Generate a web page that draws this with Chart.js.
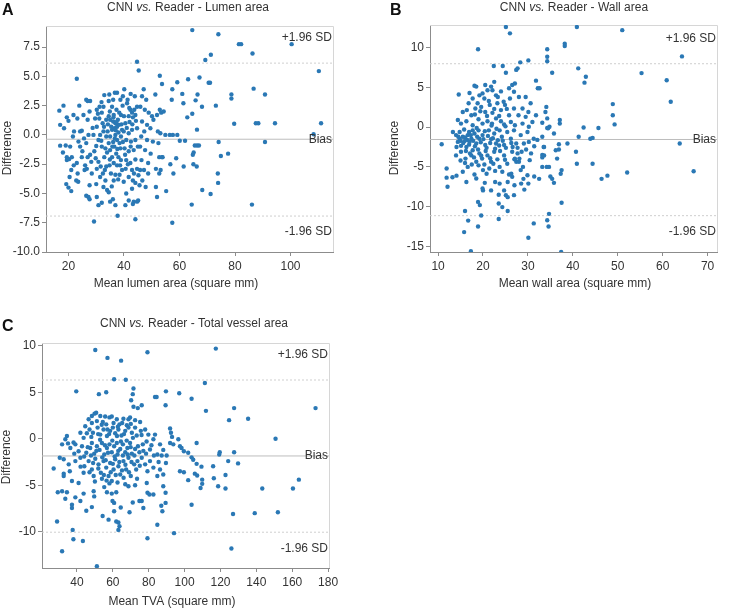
<!DOCTYPE html>
<html>
<head>
<meta charset="utf-8">
<script src="https://cdn.jsdelivr.net/npm/chart.js@4.4.1/dist/chart.umd.min.js"></script>
<style>
  html, body { margin: 0; padding: 0; background: #fff; }
  body { width: 754px; height: 609px; position: relative; overflow: hidden; }
  canvas { position: absolute; }
</style>
</head>
<body>
<canvas id="chartA" width="377" height="300" style="left:0;top:0"></canvas>
<canvas id="chartB" width="377" height="300" style="left:377px;top:0"></canvas>
<canvas id="chartC" width="377" height="309" style="left:0;top:300px"></canvas>
<script>
// [mean, difference] pairs
var lumenPairs = [
  [64.6,8.95],[74.0,8.6],[81.4,7.75],[82.2,7.75],[86.3,6.95],[100.4,7.75],[71.3,6.85],[69.3,6.4],[44.7,6.25],[45.3,5.5],
  [110.2,5.45],[23.0,4.8],[52.9,5.05],[63.1,4.75],[59.2,4.5],[67.2,4.9],[70.5,4.45],[71.0,4.45],[53.7,4.35],[57.4,3.9],
  [86.7,3.95],[78.7,3.45],[78.7,3.1],[90.8,3.45],[61.0,3.5],[66.5,3.45],[57.2,3.0],[65.8,2.95],[61.4,2.7],[68.1,2.4],
  [73.1,2.5],[62.8,1.5],[64.6,1.8],[79.7,0.95],[87.5,1.0],[88.4,1.0],[94.4,1.0],[111.0,1.0],[66.3,0.45],[56.5,0.0],
  [57.6,0.0],[59.2,0.0],[60.1,-0.5],[62.0,-0.5],[65.5,-0.9],[66.3,-0.9],[67.0,-0.9],[74.1,-0.6],[90.8,-0.6],[108.3,0.05],
  [65.1,-1.5],[64.8,-1.7],[74.9,-1.8],[77.5,-1.6],[58.8,-2.0],[53.7,-1.9],[56.7,-2.5],[61.5,-2.7],[65.0,-2.5],[66.2,-2.7],
  [57.8,-3.3],[73.8,-3.3],[73.9,-4.1],[68.2,-4.7],[71.2,-5.05],[55.2,-4.8],[51.9,-5.3],[64.4,-5.95],[86.1,-5.95],[57.4,-7.5],
  [44.1,-7.2],[29.2,-7.4],[37.7,-6.9],
  [16.7,2.07],[17.0,0.86],[18.2,2.5],[18.4,0.57],[17.0,-0.92],[18.0,-1.5],[19.0,-0.9],[19.4,1.5],[20.0,1.2],[19.4,-1.9],
  [19.4,-2.15],[20.2,-2.07],[19.2,-4.2],[20.0,-4.5],[21.0,-4.8],[20.4,-3.6],[21.0,-3.0],[20.6,-1.0],[21.6,-0.14],[21.8,1.7],
  [22.0,0.3],[21.2,-1.9],
  [23.9,2.5],[24.2,0.3],[24.8,0.35],[23.6,-0.57],[24.2,-1.0],[25.0,-1.4],[23.0,-2.4],[23.3,-3.3],[22.8,-3.9],[23.5,-4.0],
  [24.8,-1.9],[25.4,1.7],[26.4,3.0],[26.9,2.9],[26.9,1.3],[27.2,0.0],[26.4,-0.7],[26.0,-2.6],[26.6,-2.9],[25.8,-3.0],
  [26.4,-5.2],[27.2,-5.3],[27.6,-5.5],[26.9,-1.9],[27.8,-1.7],[27.6,2.0],[27.8,2.9],[28.4,-3.3],[27.6,-4.3],
  [30.8,-6.0],[32.0,-5.8],[30.0,-4.2],[31.4,-3.6],[30.2,-2.9],[30.8,-2.3],[29.3,-1.4],[30.0,-0.95],[30.8,-0.43],[29.0,0.0],
  [31.4,0.0],[30.2,0.7],[31.1,1.4],[29.6,1.4],[32.0,1.9],[30.2,2.15],[32.6,2.4],[31.2,2.4],[32.9,3.4],[32.3,1.0],
  [33.6,1.3],[32.6,0.3],[33.6,-0.14],[32.0,-1.0],[33.3,-1.15],[32.9,-1.9],[33.6,-2.7],[32.4,-3.3],[33.3,-3.9],[33.9,-4.7],
  [32.6,-4.45],[30.2,-5.3],
  [34.5,-4.9],[35.0,-5.7],[36.0,-5.5],[36.9,-6.0],[36.3,-3.9],[36.9,-3.4],[35.3,-3.3],[34.8,-2.6],[36.3,-2.4],[37.5,-2.6],
  [35.7,-1.9],[37.2,-1.6],[38.0,-1.9],[35.0,-1.3],[36.5,-1.0],[34.5,-0.7],[36.1,-0.6],[37.5,-0.43],[38.4,-0.7],[35.0,-0.14],
  [36.9,0.0],[34.1,0.3],[35.7,0.43],[36.5,0.57],[37.5,0.7],[38.2,0.86],[36.9,1.0],[36.1,1.15],[35.0,1.3],[37.8,1.3],
  [34.5,1.6],[36.3,1.7],[34.9,2.0],[37.3,2.15],[35.7,2.4],[34.5,2.9],[36.1,3.0],[36.7,3.6],[37.5,3.6],[34.7,3.45],
  [38.7,3.0],[38.9,1.7],[39.3,0.43],[38.9,-0.14],[38.7,-1.15],[38.9,-2.15],[39.3,-3.0],[38.4,-3.4],
  [40.1,3.9],[39.6,3.3],[41.1,2.7],[42.3,2.15],[42.9,1.9],[41.7,1.6],[43.2,1.5],[44.1,1.7],[43.7,2.15],[44.7,2.4],
  [42.4,3.5],[43.9,3.3],[40.5,1.0],[42.0,1.1],[39.9,0.3],[41.7,0.14],[42.9,0.43],[44.7,0.57],[40.8,-0.43],[42.5,-0.57],
  [44.1,-0.43],[40.2,-1.15],[41.7,-1.4],[43.5,-1.3],[45.0,-1.0],[40.8,-2.15],[42.3,-2.4],[44.1,-2.1],[40.6,-2.9],[42.9,-3.0],
  [44.7,-2.9],[41.7,-3.6],[43.2,-3.9],[44.1,-4.1],[39.9,-4.0],[40.8,-5.0],[41.7,-5.6],[40.5,-6.0],[43.5,-5.7],[43.2,-5.9],
  [44.7,-5.7],[45.1,-5.6],[42.9,-4.6],
  [46.5,3.3],[47.1,3.9],[48.0,3.0],[45.9,2.4],[47.5,2.15],[48.9,1.9],[50.1,1.6],[51.3,3.45],[51.9,1.7],[52.9,2.15],
  [53.4,1.9],[54.3,2.0],[50.6,1.3],[46.5,1.15],[48.3,0.86],[49.5,0.57],[47.3,0.3],[52.2,0.3],[53.1,0.14],[54.9,0.0],
  [46.2,-0.14],[48.3,-0.43],[50.4,-0.57],[52.4,-0.7],[45.8,-1.0],[47.6,-1.3],[49.6,-1.6],[52.7,-1.9],[53.9,-1.9],[46.3,-2.15],
  [48.7,-2.4],[51.5,-2.9],[53.2,-3.0],[45.8,-3.0],[47.2,-3.0],[48.7,-3.3],[46.6,-3.9],[47.8,-4.45],[45.6,-4.3],[45.2,-3.45],
  [51.5,-4.45],[52.7,-3.3],
  [31.8,-0.5],[32.8,0.7],[33.9,-1.5],[34.2,0.9],[34.9,-2.1],[35.4,0.7],[35.8,-1.0],[36.2,1.5],[36.7,-0.3],[37.0,0.4],
  [37.3,1.1],[37.6,-1.2],[38.0,0.2],[38.3,1.9],[38.6,-2.6],[39.1,0.9],[39.6,-0.6],[40.0,1.6],[40.4,-1.7],[41.0,0.6],
  [41.4,-2.5],[41.9,2.3],[42.4,-1.0],[43.0,0.9],[43.6,-3.3],[44.3,1.2],[29.8,-2.0],[30.6,1.8],[31.6,-2.7],[31.9,2.8],
  [33.1,-3.0],[35.6,-4.4],[37.9,-3.8],[39.5,2.5],[41.3,3.0],[28.7,0.6],[28.2,-2.3],[25.6,-0.3],[23.2,1.4],[21.9,-2.6]
];

var wallPairs = [
  [25.1,12.6],[26.0,11.8],[40.9,12.6],[51.0,12.2],[18.9,9.8],[64.3,8.9],[34.3,8.3],[34.3,8.85],[34.3,9.8],[38.2,10.5],
  [38.2,10.2],[41.2,7.4],[55.3,6.8],[60.9,5.9],[61.8,3.2],[30.1,8.4],[28.3,8.15],[27.7,7.4],[27.4,7.2],[24.4,7.7],
  [22.4,7.7],[25.1,6.85],[35.4,6.85],[42.9,6.35],[42.6,5.6],[31.8,5.85],[32.2,4.9],[32.6,4.9],[48.9,2.9],[48.9,1.5],
  [49.3,0.35],[45.7,-0.1],[42.4,-0.05],[41.3,-1.2],[43.9,-1.45],[44.4,-1.35],[38.8,-2.05],[40.7,-3.1],[40.9,-4.6],[44.4,-4.6],
  [46.4,-6.5],[47.7,-6.1],[52.1,-5.7],[63.8,-2.05],[66.9,-5.55],[37.3,-5.85],[37.5,-5.4],[36.2,-2.9],[36.9,-2.15],[36.9,-2.8],
  [37.1,0.9],[37.1,0.45],[35.8,-0.8],[34.3,-0.1],[34.8,0.05],[34.5,-0.15],[34.3,1.1],[33.9,1.9],[34.1,2.55],[33.2,0.55],
  [33.5,-2.5],[33.2,-3.5],[33.2,-3.8],[34.2,-5.0],[34.7,-5.0],[35.8,-7.0],[35.4,-6.5],[35.0,-6.2],[37.5,-9.5],[34.7,-10.9],
  [34.3,-11.7],[34.6,-12.5],[31.3,-12.1],[30.1,-13.9],[30.1,-7.1],[29.9,-6.05],[29.2,-7.85],[28.5,-7.1],[29.0,-6.5],[32.5,-6.5],
  [31.4,-6.2],[30.4,-4.15],[28.1,-3.95],[27.4,-4.35],[27.7,-3.3],[26.6,-2.5],[27.0,-4.05],[26.3,-5.85],[26.5,-6.25],[27.0,-7.3],
  [25.5,-6.9],[25.1,-8.55],[24.7,-7.95],[25.5,-8.8],[25.5,-10.55],[24.3,-10.05],[23.5,-8.5],[23.5,-9.6],[23.5,-11.55],[22.7,-6.9],
  [20.4,-7.0],[20.0,-7.95],[18.9,-9.4],[19.3,-9.8],[19.6,-11.1],[18.9,-12.5],[16.0,-10.55],[16.7,-11.75],[15.8,-13.2],[17.3,-15.6],
  [37.4,-15.7],[14.1,-6.1],[11.9,-6.35],[12.1,-7.5],[11.9,-5.2],[10.8,-2.15],[13.2,-6.3],[16.3,-6.9],
  [18.1,5.2],[18.5,5.1],[14.6,4.1],[19.2,4.0],[19.9,4.25],[21.0,4.65],[22.1,4.65],[22.9,4.0],[24.0,4.5],[25.8,4.9],
  [26.5,5.3],[27.1,5.5],[26.9,4.45],[28.0,3.8],[29.5,3.8],[30.6,3.0],[22.5,5.7],[21.8,5.1],[23.3,3.8],[20.3,3.6],
  [21.3,3.3],[17.7,3.6],[16.8,3.0],[18.8,3.0],
  [15.5,1.9],[16.4,2.15],[17.4,1.5],[18.3,2.35],[19.6,2.55],[20.5,1.9],[21.5,2.8],[22.5,2.3],[23.2,3.0],[24.0,2.15],
  [24.9,2.8],[25.8,1.5],[26.9,2.35],[27.9,1.5],[28.8,2.35],[29.5,1.3],[30.1,1.9],[31.0,0.65],[31.8,1.5],[14.4,0.9],
  [15.1,0.45],[16.3,0.75],[17.7,0.25],[19.0,1.0],[19.9,0.45],[21.0,0.75],[22.0,0.45],[22.9,1.1],[24.0,0.75],[24.7,0.35],
  [26.2,0.65],[27.1,0.25],[28.8,0.45],[30.2,0.05],[13.3,-0.6],
  [14.0,-1.0],[14.8,-1.45],[15.5,-1.2],[14.4,-1.85],[15.1,-2.35],[15.9,-1.75],[16.6,-1.0],[16.3,-2.5],[17.4,-1.45],[18.1,-0.8],
  [18.5,-2.05],[19.2,-1.45],[19.9,-1.0],[20.5,-2.25],[21.3,-0.4],[21.8,-1.5],[22.5,-0.8],[22.9,-2.05],[23.7,-0.4],[24.2,-1.2],
  [24.7,-2.25],[25.4,-0.6],[26.2,-1.45],[26.9,-0.4],[27.4,-2.05],[28.4,-1.0],[29.1,-2.05],[29.9,-0.6],[30.2,-1.85],[31.3,-1.45],
  [32.1,-1.6],[33.2,-1.2],[33.6,-2.5],[14.1,-2.5],[17.7,-0.4],[19.0,-0.4],[23.3,-1.65],[17.0,-1.85],
  [14.0,-3.55],[15.1,-3.1],[16.1,-3.95],[17.4,-3.55],[17.7,-2.9],[18.5,-4.35],[19.2,-3.3],[19.8,-3.95],[20.3,-4.7],[21.0,-3.55],
  [21.4,-5.2],[20.8,-5.85],[21.8,-4.35],[22.5,-3.1],[23.2,-4.05],[23.7,-5.0],[24.7,-3.55],[25.4,-4.6],[26.5,-3.1],[27.1,-3.95],
  [28.0,-4.35],[28.9,-5.0],[28.4,-5.4],[25.8,-5.95],[24.3,-5.6],[15.5,-5.6],[16.6,-5.0],[18.1,-5.95],[18.5,-6.45],[19.9,-7.7],
  [21.8,-7.95],[23.7,-7.1],[26.9,-8.55],[33.2,-5.0],[33.6,-3.55],[36.5,-3.95],
  [14.5,-1.2],[15.0,-1.7],[15.6,-2.0],[16.0,-1.3],[16.5,-1.6],[16.9,-2.2],[17.3,-1.0],[17.8,-1.7],[18.2,-2.4],[18.7,-1.2],
  [19.5,-1.9],[20.1,-1.5],[20.8,-2.6],[21.1,-1.1],[21.6,-2.0],[22.2,-1.4],[22.7,-2.7],[23.6,-2.3],[24.4,-1.7],[25.1,-2.6],
  [14.8,-0.6],[15.8,-0.3],[16.9,-0.6],[18.6,-0.1],[20.4,-0.5],[21.9,0.2],[23.0,-0.2],[25.0,0.1],[16.2,-3.0],[17.1,-3.3],
  [18.0,-3.8],[18.9,-2.8],[19.6,-3.6],[20.6,-3.0],[21.6,-3.9],[22.3,-4.6],[23.8,-3.0],[24.9,-4.1],[19.0,-4.8],[20.0,-5.4],
  [22.7,-5.5],[17.5,-4.7],[16.0,-4.5],[15.0,-4.2],[20.9,1.4],[18.2,1.6],[19.4,2.0],[22.1,1.8],[23.6,1.4],[25.3,2.3],
  [26.3,-2.0],[27.7,-2.6],[28.6,-3.1],[29.6,-2.8],[30.7,-3.3],[31.4,-2.4],[26.0,3.6],[24.6,3.2],[20.5,5.3],[17.0,4.3]
];

var tvaPairs = [
  [50.2,9.55],[57.0,8.7],[64.6,8.4],[79.3,9.3],[117.4,9.7],[60.7,6.4],[67.2,6.35],[39.6,5.1],[52.2,4.8],[56.3,5.0],
  [71.5,5.4],[71.1,4.8],[70.2,4.15],[71.5,3.45],[73.9,3.3],[76.1,3.6],[83.5,4.5],[84.4,4.5],[89.6,5.1],[97.0,4.9],
  [103.9,4.3],[89.4,3.6],[111.3,6.0],[111.9,3.0],
  [49.8,2.7],[50.7,2.8],[48.3,2.45],[46.5,2.1],[53.0,2.45],[55.7,2.4],[58.1,2.3],[59.4,2.4],[62.2,2.1],[65.9,2.15],
  [68.7,2.1],[69.6,2.3],[72.4,2.0],[75.2,1.8],[51.1,1.9],[54.4,1.8],[56.3,1.55],[60.4,1.7],[63.7,1.55],[67.8,1.45],[48.3,1.7],
  [44.6,1.35],[41.9,0.65],[43.7,0.1],[47.0,1.0],[48.9,0.65],[51.5,1.2],[53.0,0.45],[54.8,1.0],[56.7,0.3],[58.5,0.85],
  [60.0,1.2],[61.3,0.6],[63.1,1.0],[64.8,0.35],[66.9,0.85],[68.7,1.2],[70.6,0.65],[72.4,1.2],[73.3,0.35],[75.6,0.85],
  [78.0,1.0],[79.8,0.45],[82.6,-0.05],[83.5,0.45],[86.3,-0.6],[34.4,0.3],[33.5,-0.05],[31.7,-0.6],[38.1,-0.4],
  [36.3,-1.0],[39.1,-0.6],[40.9,-1.35],[42.8,-0.8],[45.2,-1.5],[47.4,-1.0],[48.3,-0.45],[49.6,-1.6],[51.1,-0.8],[52.6,-1.2],
  [53.9,-0.45],[55.2,-1.7],[56.7,-1.0],[58.1,-0.6],[59.4,-1.45],[60.7,-0.8],[62.2,-0.45],[62.6,-1.7],[64.1,-1.1],[65.6,-0.6],
  [66.9,-1.45],[68.1,-1.0],[69.6,-0.45],[70.6,-1.6],[72.4,-1.1],[74.8,-1.45],[76.7,-0.6],[78.5,-1.6],[80.7,-1.15],[82.9,-1.8],
  [84.8,-1.7],[87.2,-1.8],[88.1,-1.2],
  [32.6,-2.2],[35.4,-2.75],[39.1,-2.4],[41.9,-2.05],[44.1,-2.95],[46.5,-2.4],[48.3,-3.3],[50.2,-2.15],[52.0,-2.75],[53.3,-3.65],
  [54.8,-2.4],[56.3,-3.1],[57.6,-4.0],[58.5,-2.6],[60.4,-3.3],[61.3,-2.2],[63.1,-2.95],[64.1,-3.85],[65.9,-2.4],[67.4,-3.3],
  [68.7,-2.05],[70.0,-4.0],[71.9,-2.75],[73.7,-2.4],[76.1,-2.05],[78.0,-2.75],[79.3,-3.5],[80.7,-2.4],[82.6,-3.1],[84.8,-4.0],
  [86.3,-3.3],[88.1,-3.85],[59.4,-4.55],[58.1,-4.8],[53.9,-4.3],[49.3,-4.0],[43.7,-3.65],[40.9,-4.75],[37.2,-4.55],
  [43.7,-5.9],[37.2,-7.1],[37.2,-7.45],[37.6,-9.8],[38.0,-10.8],[43.3,-11.0],[31.7,-12.1],[45.2,-7.75],[48.3,-7.35],[51.1,-13.7],
  [54.3,-8.3],[57.6,-8.7],[60.7,-7.8],[61.9,-8.9],[63.1,-9.0],[63.7,-9.4],[63.1,-9.8],[59.8,-6.7],[60.7,-6.9],[59.4,-5.9],
  [61.9,-5.75],[56.7,-5.75],[64.4,-7.4],[69.3,-7.9],[71.1,-6.85],[74.8,-6.7],[76.1,-6.7],[77.0,-7.45],[79.3,-5.8],[80.4,-6.0],
  [82.6,-6.0],[79.3,-10.7],[84.8,-9.25],[87.6,-7.8],[87.0,-7.2],[89.4,-6.9],[89.4,-5.8],[88.1,-5.1],[78.9,-4.75],[72.4,-5.0],
  [68.7,-5.1],[66.9,-4.9],[49.3,-5.65],[49.6,-6.2],[41.9,-6.7],[39.1,-6.3],[33.5,-6.45],[34.4,-5.75],[31.7,-5.65],
  [27.0,-3.2],[29.3,-5.75],[28.9,-8.9],[30.4,-2.05],[32.6,-3.75],[32.6,-4.0],
  [91.9,1.1],[92.4,0.65],[93.0,0.2],[91.9,-0.45],[93.7,-0.6],[96.5,-0.05],[97.4,-0.8],[98.3,-1.0],[99.6,-1.35],[102.0,-1.5],
  [97.4,-3.5],[99.6,-3.6],[102.0,-4.45],[94.1,-10.15],[90.0,-1.8],[89.6,-2.6],
  [127.6,3.3],[124.8,2.0],[135.4,2.15],[173.0,3.3],[150.7,0.0],[106.7,-0.45],[119.6,-1.45],[119.3,-1.7],[127.6,-1.45],[103.9,-2.0],
  [104.8,-2.25],[106.7,-2.7],[109.4,-3.0],[124.3,-2.4],[129.8,-2.65],[115.9,-2.95],[105.7,-3.75],[107.0,-3.95],[109.8,-4.4],[109.8,-4.85],
  [108.9,-5.3],[116.3,-4.25],[118.7,-5.1],[122.8,-3.9],[122.8,-5.35],[143.3,-5.35],[160.4,-5.35],[163.7,-4.4],[103.9,-7.1],[127.0,-8.1],
  [139.1,-8.0],[152.0,-7.9],[126.1,-11.8],
  [46.0,-0.9],[47.8,-1.8],[49.0,-2.6],[50.8,-1.3],[51.9,-3.2],[52.9,-0.1],[54.1,-2.0],[55.6,-0.7],[56.0,-2.3],[57.3,-1.5],
  [57.9,0.5],[58.8,-3.6],[59.7,-0.2],[60.0,-2.7],[61.0,-1.9],[61.6,-3.9],[62.3,0.3],[63.0,-1.3],[63.6,-2.5],[64.5,-0.3],
  [65.1,-3.4],[65.6,-1.8],[66.2,0.5],[67.0,-2.8],[67.7,-0.2],[68.3,-1.7],[69.0,-3.6],[69.9,-0.9],[70.4,-2.5],[71.2,0.1],
  [72.0,-1.8],[73.0,-3.3],[74.0,-0.8],[75.0,-2.9],[76.0,0.4],[77.0,-1.3],[78.8,-0.3],[44.0,-1.9],[45.5,0.6],[47.0,-3.6],
  [48.0,0.2],[50.0,-4.6],[51.8,0.5],[53.8,1.5],[55.0,-3.9],[57.0,1.0],[62.8,1.3],[65.2,1.7],[70.0,1.6],[42.0,-3.0],
  [38.5,-1.6],[36.0,-3.5],[35.0,-0.5],[56.5,-4.5],[62.6,-4.7],[66.0,-4.2],[73.5,-4.3],[81.5,-0.7],[85.5,-2.5],[55.2,-5.2]
];

// bias and limits of agreement: [lower, bias, upper]
var lumenLimits = [-6.93, -0.37, 6.13];
var wallLimits = [-11.13, -1.55, 7.98];
var tvaLimits = [-10.05, -1.85, 6.32];

// tick labels
var lumenXTicks = [20, 40, 60, 80, 100];
var lumenYTicks = [-10, -7.5, -5, -2.5, 0, 2.5, 5, 7.5];
var wallXTicks = [10, 20, 30, 40, 50, 60, 70];
var wallYTicks = [-15, -10, -5, 0, 5, 10];
var tvaXTicks = [40, 60, 80, 100, 120, 140, 160, 180];
var tvaYTicks = [-10, -5, 0, 5, 10];

var FONT = '"Liberation Sans", Arial, sans-serif';
var DOT = '#2a78b5';

function toPoints(pairs) {
  return pairs.map(function(p) { return {x: p[0], y: p[1]}; });
}

var panelText = {
  id: 'panelText',
  beforeDatasetsDraw: function(chart) {
    var a = chart.chartArea, ctx = chart.ctx;
    ctx.save();
    ctx.strokeStyle = '#d6d6d6';
    ctx.lineWidth = 1;
    ctx.beginPath();
    ctx.moveTo(a.left, a.top + 0.5);
    ctx.lineTo(a.right + 0.5, a.top + 0.5);
    ctx.lineTo(a.right + 0.5, a.bottom);
    ctx.stroke();
    ctx.restore();
  },
  afterDraw: function(chart, args, o) {
    var ctx = chart.ctx, a = chart.chartArea, y = chart.scales.y;
    ctx.save();
    ctx.fillStyle = '#111';
    ctx.textAlign = 'left';
    ctx.textBaseline = 'alphabetic';
    ctx.font = 'bold 16px ' + FONT;
    ctx.fillText(o.letter, o.letterPos[0], o.letterPos[1]);

    // title with italic "vs."
    var parts = [['CNN ', 'normal'], ['vs.', 'italic'], [o.title, 'normal']];
    var total = 0;
    parts.forEach(function(p) {
      ctx.font = p[1] + ' 12px ' + FONT;
      p.push(ctx.measureText(p[0]).width);
      total += p[2];
    });
    var tx = o.titlePos[0] - total / 2;
    ctx.fillStyle = '#333';
    parts.forEach(function(p) {
      ctx.font = p[1] + ' 12px ' + FONT;
      ctx.fillText(p[0], tx, o.titlePos[1]);
      tx += p[2];
    });

    ctx.font = '12px ' + FONT;
    ctx.textAlign = 'center';
    ctx.textBaseline = 'middle';
    ctx.fillText(o.xTitle, o.xTitlePos[0], o.xTitlePos[1]);
    ctx.save();
    ctx.translate(o.yTitlePos[0], o.yTitlePos[1]);
    ctx.rotate(-Math.PI / 2);
    ctx.fillText('Difference', 0, 0);
    ctx.restore();

    ctx.textAlign = 'right';
    var lim = o.limits;
    ctx.fillText('+1.96 SD', a.right - 1, y.getPixelForValue(lim[2]) - 25);
    ctx.fillText('Bias', a.right - 1, y.getPixelForValue(lim[1]));
    ctx.fillText('-1.96 SD', a.right - 1, y.getPixelForValue(lim[0]) + 16);
    ctx.restore();
  }
};

function makePanel(id, pairs, limits, s) {
  var W = s.size[0], H = s.size[1];
  var lineSet = function(v, dash) {
    return {
      type: 'line',
      data: [{x: s.x[0], y: v}, {x: s.x[1], y: v}],
      borderColor: dash ? '#cfcfcf' : '#bdbdbd',
      borderWidth: 1,
      borderDash: dash ? [2, 2] : [],
      pointRadius: 0,
      fill: false
    };
  };
  var axisCommon = function(range, tickVals, digits, fit) {
    return {
      type: 'linear',
      min: range[0],
      max: range[1],
      afterFit: fit,
      afterBuildTicks: function(sc) {
        sc.ticks = tickVals.map(function(v) { return {value: v}; });
      },
      grid: {drawOnChartArea: false, drawTicks: true, tickLength: 4, color: '#8c8c8c'},
      border: {display: true, color: '#8c8c8c'},
      ticks: {
        maxRotation: 0,
        autoSkip: false,
        color: '#333',
        font: {family: FONT, size: 12},
        padding: 2,
        callback: function(v) { return Number(v).toFixed(digits); }
      }
    };
  };
  var xs = axisCommon(s.x, s.xTicks, 0, function(sc) { sc.height = H - s.area[3]; });
  xs.position = 'bottom';
  xs.ticks.padding = 3;
  var ys = axisCommon(s.y, s.yTicks, s.yDigits, function(sc) { sc.width = s.area[0]; });
  ys.position = 'left';

  new Chart(document.getElementById(id).getContext('2d'), {
    type: 'scatter',
    data: {
      datasets: [
        {data: toPoints(pairs), backgroundColor: DOT, borderWidth: 0, pointRadius: 2.2},
        lineSet(limits[1], false),
        lineSet(limits[2], true),
        lineSet(limits[0], true)
      ]
    },
    options: {
      responsive: false,
      animation: false,
      layout: {padding: {left: 0, top: s.area[1], right: W - s.area[2], bottom: 0}},
      scales: {x: xs, y: ys},
      plugins: {
        legend: {display: false},
        tooltip: {enabled: false},
        panelText: {
          letter: s.letter, letterPos: s.letterPos,
          title: s.title, titlePos: s.titlePos,
          xTitle: s.xTitle, xTitlePos: s.xTitlePos,
          yTitlePos: s.yTitlePos, limits: limits
        }
      }
    },
    plugins: [panelText]
  });
}

makePanel('chartA', lumenPairs, lumenLimits, {
  size: [377, 300], area: [46, 26, 333, 252],
  x: [11.9, 115.3], xTicks: lumenXTicks, y: [-10, 9.3], yTicks: lumenYTicks, yDigits: 1,
  letter: 'A', letterPos: [2, 15],
  title: ' Reader - Lumen area', titlePos: [188, 11],
  xTitle: 'Mean lumen area (square mm)', xTitlePos: [176, 284],
  yTitlePos: [8, 148]
});

makePanel('chartB', wallPairs, wallLimits, {
  size: [377, 300], area: [53, 25, 340, 252],
  x: [8.2, 72.1], xTicks: wallXTicks, y: [-15.7, 12.85], yTicks: wallYTicks, yDigits: 0,
  letter: 'B', letterPos: [13, 15],
  title: ' Reader - Wall area', titlePos: [197, 11],
  xTitle: 'Mean wall area (square mm)', xTitlePos: [198, 284],
  yTitlePos: [18, 148]
});

makePanel('chartC', tvaPairs, tvaLimits, {
  size: [377, 309], area: [42, 43, 329, 268],
  x: [20.5, 180.5], xTicks: tvaXTicks, y: [-13.9, 10.3], yTicks: tvaYTicks, yDigits: 0,
  letter: 'C', letterPos: [2, 31],
  title: ' Reader - Total vessel area', titlePos: [194, 27],
  xTitle: 'Mean TVA (square mm)', xTitlePos: [172, 302],
  yTitlePos: [7, 157]
});
</script>
</body>
</html>
